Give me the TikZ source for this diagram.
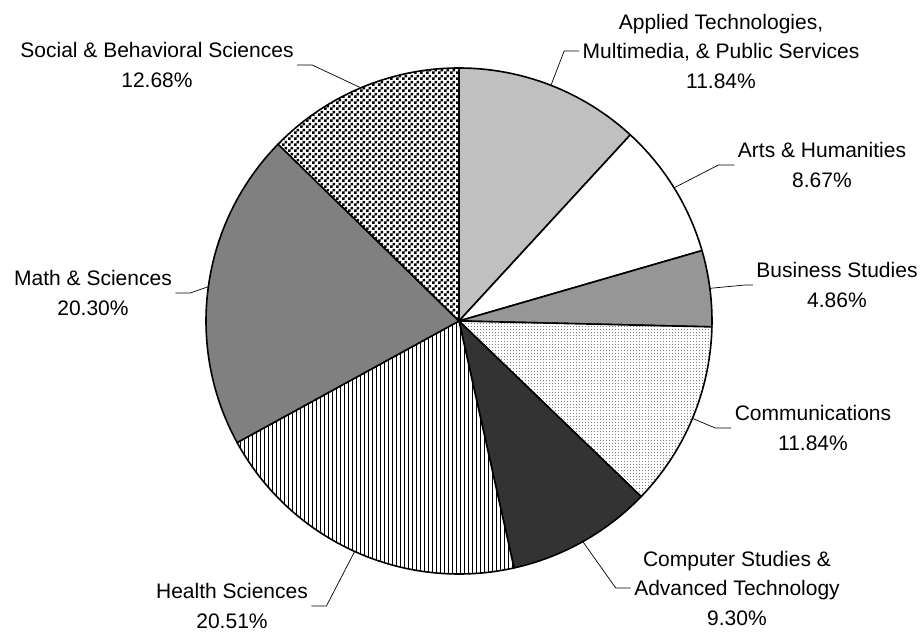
\documentclass[tikz,border=0pt]{standalone}
\usepackage{fontspec}
\setmainfont{Liberation Sans}
\usetikzlibrary{patterns}
\usetikzlibrary{positioning}
\definecolor{appgray}{HTML}{C0C0C0}
\definecolor{busgray}{HTML}{969696}
\definecolor{mathgray}{HTML}{808080}
\definecolor{compgray}{HTML}{333333}
\pgfdeclarepatternformonly{checker}{\pgfpointorigin}{\pgfqpoint{6pt}{6pt}}{\pgfqpoint{6pt}{6pt}}{%
  \pgfpathrectangle{\pgfpointorigin}{\pgfqpoint{3pt}{3pt}}%
  \pgfpathrectangle{\pgfqpoint{3pt}{3pt}}{\pgfqpoint{3pt}{3pt}}%
  \pgfusepath{fill}}
\pgfdeclarepatternformonly{vlines}{\pgfqpoint{-1pt}{0pt}}{\pgfqpoint{1pt}{4pt}}{\pgfqpoint{4pt}{4pt}}{%
  \pgfsetlinewidth{0.7pt}%
  \pgfpathmoveto{\pgfqpoint{0pt}{0pt}}\pgfpathlineto{\pgfqpoint{0pt}{4pt}}%
  \pgfusepath{stroke}}
\pgfdeclarepatternformonly{fdots}{\pgfpointorigin}{\pgfqpoint{3pt}{3pt}}{\pgfqpoint{3pt}{3pt}}{%
  \pgfpathrectangle{\pgfpointorigin}{\pgfqpoint{1pt}{1pt}}%
  \pgfusepath{fill}}
\tikzset{
    slice/.style = {draw=black, line width=1.6pt, line join=round},
    sliceapp/.style = {slice, fill=appgray},
    slicearts/.style = {slice, fill=white},
    slicebus/.style = {slice, fill=busgray},
    slicecomm/.style = {slice, preaction={fill=white}, pattern=fdots, pattern color=gray},
    slicecomp/.style = {slice, fill=compgray},
    slicehealth/.style = {slice, preaction={fill=white}, pattern=vlines, pattern color=black},
    slicemath/.style = {slice, fill=mathgray},
    slicesoc/.style = {slice, preaction={fill=white}, pattern=checker, pattern color=black},
    leader/.style = {draw=black, line width=0.7pt},
    lbl/.style = {align=center, font=\fontsize{21}{29.5}\selectfont},
}
\begin{document}
\begin{tikzpicture}[x=1pt,y=1pt]
\path[use as bounding box] (-459,-311) rectangle (464,321);
%
% slices, clockwise from the top
\draw[sliceapp] (0,0) -- (90:253) arc[start angle=90, end angle=47.376, radius=253pt] -- cycle;
\draw[slicearts] (0,0) -- (47.376:253) arc[start angle=47.376, end angle=16.164, radius=253pt] -- cycle;
\draw[slicebus] (0,0) -- (16.164:253) arc[start angle=16.164, end angle=-1.332, radius=253pt] -- cycle;
\draw[slicecomm] (0,0) -- (-1.332:253) arc[start angle=-1.332, end angle=-43.956, radius=253pt] -- cycle;
\draw[slicecomp] (0,0) -- (-43.956:253) arc[start angle=-43.956, end angle=-77.436, radius=253pt] -- cycle;
\draw[slicehealth] (0,0) -- (-77.436:253) arc[start angle=-77.436, end angle=-151.272, radius=253pt] -- cycle;
\draw[slicemath] (0,0) -- (-151.272:253) arc[start angle=-151.272, end angle=-224.352, radius=253pt] -- cycle;
\draw[slicesoc] (0,0) -- (-224.352:253) arc[start angle=-224.352, end angle=-270, radius=253pt] -- cycle;
%
% points where the leaders meet the rim
\coordinate (pApp) at (68.688:253);
\coordinate (pArts) at (31.77:253);
\coordinate (pBus) at (7.416:253);
\coordinate (pComm) at (-22.644:253);
\coordinate (pComp) at (-60.696:253);
\coordinate (pHealth) at (-114.354:253);
\coordinate (pMath) at (172.188:253);
\coordinate (pSoc) at (112.824:253);
%
\node[lbl] at (262,270) (app) {Applied Technologies,\\Multimedia, \& Public Services\\11.84\%};
\node[lbl] at (363,156) (arts) {Arts \& Humanities\\8.67\%};
\node[lbl] at (378,36) (bus) {Business Studies\\4.86\%};
\node[lbl] at (354,-107) (comm) {Communications\\11.84\%};
\node[lbl] at (278,-267) (comp) {Computer Studies \&\\Advanced Technology\\9.30\%};
\node[lbl] at (-227,-285) (health) {Health Sciences\\20.51\%};
\node[lbl] at (-366,28) (math) {Math \& Sciences\\20.30\%};
\node[lbl] at (-302,256) (soc) {Social \& Behavioral Sciences\\12.68\%};
%
\draw[leader] (app.west) -- ++(-15,0) -- (pApp);
\draw[leader] (arts.west) -- ++(-16,0) -- (pArts);
\draw[leader] (bus.west) -- ++(-8,0) -- (pBus);
\draw[leader] (comm.west) -- ++(-16,0) -- (pComm);
\draw[leader] (comp.west) -- ++(-15,0) -- (pComp);
\draw[leader] (health.east) -- ++(15,0) -- (pHealth);
\draw[leader] (math.east) -- ++(15,0) -- (pMath);
\draw[leader] (soc.east) -- ++(15,0) -- (pSoc);
\end{tikzpicture}
\end{document}
